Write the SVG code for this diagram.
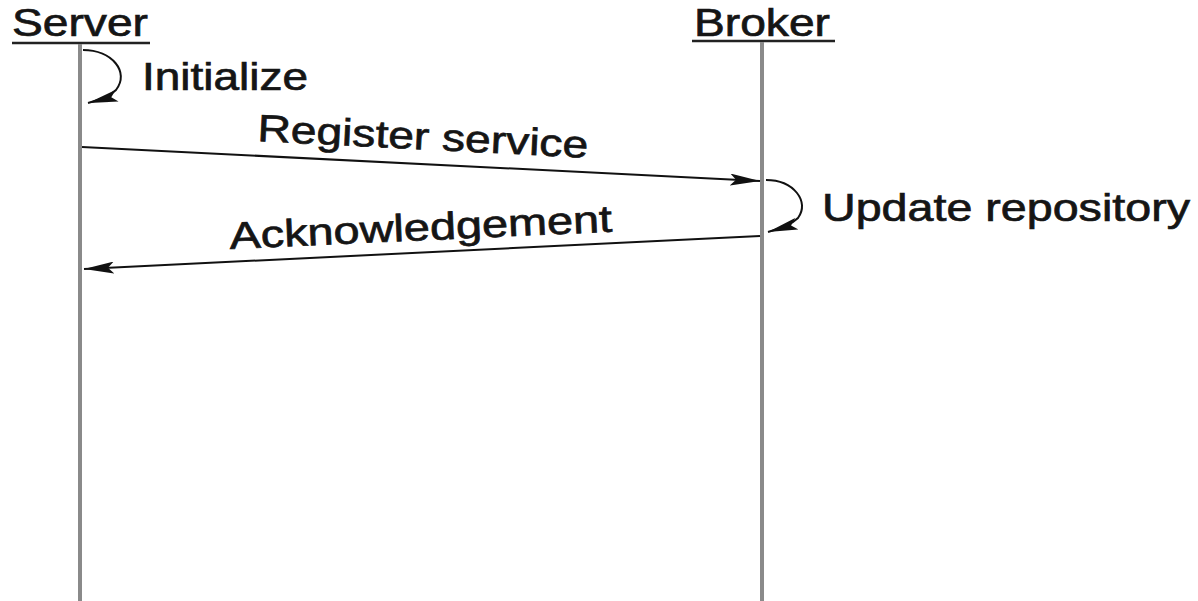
<svg xmlns="http://www.w3.org/2000/svg" width="1198" height="601" viewBox="0 0 1198 601">
  <style>
    .lbl { font-family: "Liberation Sans", Arial, sans-serif; font-size: 38px; fill: #151515; stroke: #151515; stroke-width: 0.7; }
    .life { stroke: #8a8a8a; stroke-width: 4; fill: none; }
    .under { stroke: #222; stroke-width: 2.5; }
    .msg { stroke: #111; stroke-width: 2; fill: none; }
  </style>
  <defs>
    <marker id="head" viewBox="0 0 30 12" refX="30" refY="6" markerWidth="30" markerHeight="12" markerUnits="userSpaceOnUse" orient="auto">
      <path d="M0,0 L30,6 L0,12 L6,6 Z" fill="#111"/>
    </marker>
  </defs>

  <rect width="1198" height="601" fill="#fff"/>

  <!-- Server lifeline -->
  <g id="server">
    <text class="lbl" x="12" y="36" textLength="136" lengthAdjust="spacingAndGlyphs">Server</text>
    <line class="under" x1="12" y1="43" x2="150" y2="43"/>
    <line class="life" x1="80" y1="44" x2="80" y2="601"/>
  </g>

  <!-- Broker lifeline -->
  <g id="broker">
    <text class="lbl" x="694" y="36" textLength="136" lengthAdjust="spacingAndGlyphs">Broker</text>
    <line class="under" x1="692" y1="41" x2="835" y2="41"/>
    <line class="life" x1="762" y1="42" x2="762" y2="601"/>
  </g>

  <!-- Messages -->
  <g id="connectors">
    <path class="msg" d="M83,50 C112,50 130,72 116,90 C110,96 100,100 88,103" marker-end="url(#head)"/>
    <line class="msg" x1="82" y1="147" x2="760" y2="181" marker-end="url(#head)"/>
    <path class="msg" d="M766,180 C794,180 810,202 798,218 C792,224 782,228 768,232" marker-end="url(#head)"/>
    <line class="msg" x1="760" y1="236" x2="84" y2="269" marker-end="url(#head)"/>
  </g>

  <g id="labels">
    <text class="lbl" x="142" y="90" textLength="166" lengthAdjust="spacingAndGlyphs">Initialize</text>
    <text class="lbl" x="257" y="141" textLength="331" lengthAdjust="spacingAndGlyphs" transform="rotate(2.9 257 141)">Register service</text>
    <text class="lbl" x="822" y="221" textLength="368" lengthAdjust="spacingAndGlyphs">Update repository</text>
    <text class="lbl" x="230" y="249" textLength="383" lengthAdjust="spacingAndGlyphs" transform="rotate(-2.6 230 249)">Acknowledgement</text>
  </g>
</svg>
